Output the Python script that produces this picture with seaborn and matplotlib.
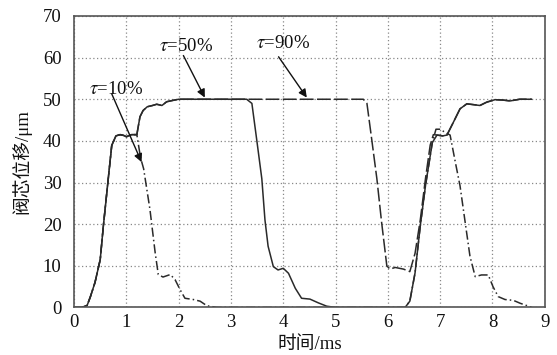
import matplotlib
matplotlib.use("Agg")
import matplotlib.pyplot as plt
import seaborn as sns
import pandas as pd

# ---- data ----
t50_x = [0, 0.15, 0.25, 0.31, 0.4, 0.5, 0.56, 0.66, 0.72, 0.8, 0.88, 0.95, 1.0, 1.1, 1.2,
         1.26, 1.32, 1.4, 1.5, 1.58, 1.68, 1.77, 1.88, 2.0, 2.5, 3.0, 3.3, 3.4, 3.49, 3.59,
         3.65, 3.71, 3.81, 3.9, 4.0, 4.1, 4.23, 4.35, 4.51, 4.67, 4.83, 5.0, 6.0, 6.33,
         6.42, 6.52, 6.62, 6.72, 6.85, 6.94, 7.05, 7.13, 7.25, 7.38, 7.51, 7.64, 7.76, 7.89,
         8.05, 8.2, 8.34, 8.52, 8.75]
t50_y = [0, 0, 0.5, 2.5, 6, 11.5, 19.6, 31.7, 38.9, 41.2, 41.5, 41.3, 41.0, 41.5, 41.5,
         45.8, 47.3, 48.2, 48.5, 48.8, 48.5, 49.4, 49.7, 50, 50, 50, 50, 49, 40.5, 30.9,
         21, 14.7, 9.8, 9.0, 9.4, 8.2, 4.6, 2.2, 2.0, 1.1, 0.3, 0, 0, 0,
         1.5, 8.3, 19.6, 29.3, 39.6, 41.4, 41.2, 41.4, 44.4, 47.7, 48.9, 48.7, 48.5, 49.3,
         49.9, 49.8, 49.6, 50, 50]

t10_x = [0, 0.15, 0.25, 0.31, 0.4, 0.5, 0.56, 0.66, 0.72, 0.8, 0.88, 0.95, 1.0, 1.1, 1.2,
         1.27, 1.33, 1.45, 1.55, 1.61, 1.70, 1.77, 1.84, 1.93, 2.03, 2.12, 2.28, 2.41, 2.54,
         2.73, 6.33, 6.42, 6.52, 6.62, 6.72, 6.85, 6.92, 7.0, 7.1, 7.19, 7.29, 7.38, 7.48,
         7.57, 7.67, 7.79, 7.92, 8.01, 8.11, 8.24, 8.40, 8.53, 8.69, 8.75]
t10_y = [0, 0, 0.5, 2.5, 6, 11.5, 19.6, 31.7, 38.9, 41.2, 41.5, 41.3, 41.0, 41.5, 41.5,
         36, 33.3, 23.6, 13.2, 7.9, 7.3, 7.6, 7.9, 6.7, 4.2, 2.2, 1.9, 1.5, 0.4,
         0, 0, 1.5, 8.3, 19.6, 29.3, 39.6, 42.8, 42.8, 42.0, 41.4, 34.9, 29.2, 20.3,
         12.3, 7.4, 7.8, 7.8, 5.0, 2.6, 1.9, 1.7, 1.0, 0.3, 0]

t90_x = [0, 0.15, 0.25, 0.31, 0.4, 0.5, 0.56, 0.66, 0.72, 0.8, 0.88, 0.95, 1.0, 1.1, 1.2,
         1.26, 1.32, 1.4, 1.5, 1.58, 1.68, 1.77, 1.88, 2.0, 3.0, 4.0, 5.0, 5.53, 5.6, 5.69,
         5.79, 5.88, 5.98, 6.04, 6.14, 6.3, 6.42, 6.52, 6.62, 6.72, 6.81, 6.87, 6.94, 7.05,
         7.13, 7.25, 7.38, 7.51, 7.64, 7.76, 7.89, 8.05, 8.2, 8.34, 8.52, 8.75]
t90_y = [0, 0, 0.5, 2.5, 6, 11.5, 19.6, 31.7, 38.9, 41.2, 41.5, 41.3, 41.0, 41.5, 41.5,
         45.8, 47.3, 48.2, 48.5, 48.8, 48.5, 49.4, 49.7, 50, 50, 50, 50, 50, 49, 40.5,
         30.9, 20.5, 10, 9.2, 9.6, 9.2, 8.6, 13, 21, 31, 39, 41.5, 41.4, 41.2,
         41.4, 44.4, 47.7, 48.9, 48.7, 48.5, 49.3, 49.9, 49.8, 49.6, 50, 50]

x_ticks = [0, 1, 2, 3, 4, 5, 6, 7, 8, 9]
y_ticks = [0, 10, 20, 30, 40, 50, 60, 70]
labels = ["τ=10%", "τ=50%", "τ=90%"]

sns.set_theme(style="white")
plt.rcParams['font.family'] = ['Liberation Serif', 'Noto Sans CJK SC', 'DejaVu Sans']
plt.rcParams['mathtext.fontset'] = 'stix'

fig = plt.figure(figsize=(5.57, 3.55), dpi=100)
ax = fig.add_axes([0.133, 0.134, 0.845, 0.821])

line_col = "#2a2a2a"
sns.lineplot(x=t90_x, y=t90_y, ax=ax, sort=False, estimator=None, color=line_col,
             lw=1.1, linestyle=(0, (9, 2.2)))
sns.lineplot(x=t10_x, y=t10_y, ax=ax, sort=False, estimator=None, color=line_col,
             lw=1.1, linestyle=(0, (6, 2, 1, 2)))
sns.lineplot(x=t50_x, y=t50_y, ax=ax, sort=False, estimator=None, color=line_col,
             lw=1.1, linestyle="-")

ax.set_xlim(0, 9)
ax.set_ylim(0, 70)
ax.set_xticks(x_ticks)
ax.set_yticks(y_ticks)
ax.set_xticklabels([str(v) for v in x_ticks])
ax.set_yticklabels([str(v) for v in y_ticks])
ax.grid(True, linestyle=(0, (1, 2)), color="#888888", lw=0.9)
for s in ax.spines.values():
    s.set_color("#555555")
    s.set_linewidth(1.2)
ax.tick_params(direction="in", length=3, width=0.8, color="#555555", labelsize=13.5,
               labelcolor="#111111")
ax.tick_params(axis="x", pad=5)
ax.tick_params(axis="y", pad=9)

ax.set_xlabel("时间/ms", fontsize=13.5, color="#111111", labelpad=3)
ax.set_ylabel("阀芯位移/μm", fontsize=13.5, color="#111111", labelpad=8)

# annotations
txt_pos = [(0.80, 52.4), (2.14, 62.7), (4.0, 63.5)]
arrow_start = [(0.72, 51.3), (2.09, 60.5), (3.91, 60.2)]
arrow_tip = [(1.29, 34.9), (2.50, 50.4), (4.45, 50.4)]
for lab, tp, a0, a1 in zip(labels, txt_pos, arrow_start, arrow_tip):
    ax.text(tp[0], tp[1], r"$\tau$" + lab[1:], fontsize=13.5, ha="center", va="center",
            color="#111111")
    ax.annotate("", xy=a1, xytext=a0,
                arrowprops=dict(arrowstyle="-|>", color="#111111", lw=1.0,
                                mutation_scale=12, shrinkA=0, shrinkB=0))

fig.savefig("out.png", dpi=100)
